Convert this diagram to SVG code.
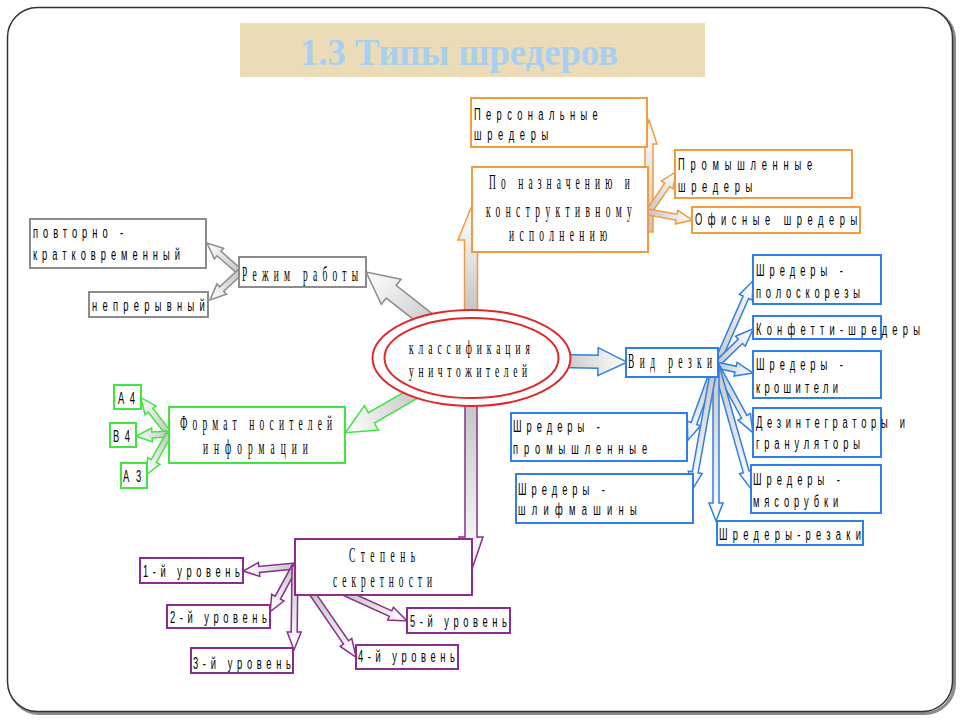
<svg xmlns="http://www.w3.org/2000/svg" width="960" height="720" viewBox="0 0 960 720">
<defs>
<linearGradient id="ag" x1="0" y1="0" x2="1" y2="0">
<stop offset="0" stop-color="#c4c4c4"/>
<stop offset="1" stop-color="#ffffff"/>
</linearGradient>
<style>
.s{font-family:"Liberation Sans",Arial,sans-serif;font-size:17px;fill:#000}
.r{font-family:"Liberation Serif","Times New Roman",serif;font-size:21px;fill:#000}
.rc{font-family:"Liberation Serif","Times New Roman",serif;font-size:18px;fill:#000}
.box{fill:#fff;stroke-width:2}
.o{stroke:#f39a3c}.g{stroke:#8c8c8c}.b{stroke:#2e7fe6}.gr{stroke:#3ee63e}.p{stroke:#8b2c8f}
.a{fill:url(#ag);stroke-width:1.5;stroke-linejoin:miter}
</style>
</defs>
<rect width="960" height="720" fill="#fff"/>
<rect x="9.5" y="9.5" width="945" height="704" rx="30" fill="none" stroke="#8a8a8a" stroke-width="3"/>
<rect x="7.5" y="7.5" width="945" height="704" rx="30" fill="#fff" stroke="#333" stroke-width="1.5"/>
<g id="title">
<rect x="240" y="23" width="465" height="54" fill="#ebdbb7"/>
<text x="300" y="65" font-family="'Liberation Serif','Times New Roman',serif" font-size="37" font-weight="bold" fill="#a6cff2" textLength="318" lengthAdjust="spacingAndGlyphs">1.3 Типы шредеров</text>
</g>
<g id="connectors">
<path class="a o" transform="translate(471,312) rotate(-90)" d="M0,-6.5H72V-13L104,0L72,13V6.5H0Z"/>
<path class="a o" transform="translate(649,232) rotate(-90)" d="M0,-4H88V-8L112,0L88,8V4H0Z"/>
<path class="a o" transform="translate(648,213) rotate(-55.7)" d="M0,-3H34V-7L50,0L34,7V3H0Z"/>
<path class="a o" transform="translate(648,212) rotate(10.3)" d="M0,-3H29V-7L45,0L29,7V3H0Z"/>
<path class="a g" transform="translate(440,330) rotate(-141.9)" d="M0,-8H62V-16L94,0L62,16V8H0Z"/>
<path class="a g" transform="translate(240,272) rotate(-138.7)" d="M0,-3H28V-7L44,0L28,7V3H0Z"/>
<path class="a g" transform="translate(240,272) rotate(137)" d="M0,-3H25V-7L41,0L25,7V3H0Z"/>
<path class="a b" transform="translate(560,361) rotate(1)" d="M0,-6.5H38V-14L67,0L38,14V6.5H0Z"/>
<path class="a b" transform="translate(716,365) rotate(-66.2)" d="M0,-3H74V-7L92,0L74,7V3H0Z"/>
<path class="a b" transform="translate(716,365) rotate(-44.2)" d="M0,-3H34V-7L52,0L34,7V3H0Z"/>
<path class="a b" transform="translate(716,365) rotate(12.2)" d="M0,-3H20V-7L38,0L20,7V3H0Z"/>
<path class="a b" transform="translate(716,365) rotate(61.4)" d="M0,-3H59V-7L77,0L59,7V3H0Z"/>
<path class="a b" transform="translate(716,365) rotate(74.2)" d="M0,-3H111V-7L129,0L111,7V3H0Z"/>
<path class="a b" transform="translate(716,366) rotate(90)" d="M0,-3H137V-7L155,0L137,7V3H0Z"/>
<path class="a b" transform="translate(714,368) rotate(109.9)" d="M0,-3H59V-7L77,0L59,7V3H0Z"/>
<path class="a b" transform="translate(714,368) rotate(100.2)" d="M0,-3H106V-7L124,0L106,7V3H0Z"/>
<path class="a gr" transform="translate(420,390) rotate(150.2)" d="M0,-6H56V-14L86,0L56,14V6H0Z"/>
<path class="a gr" transform="translate(169,434) rotate(-127.9)" d="M0,-3H30V-7L46,0L30,7V3H0Z"/>
<path class="a gr" transform="translate(169,434) rotate(176.5)" d="M0,-3H17V-7L33,0L17,7V3H0Z"/>
<path class="a gr" transform="translate(169,434) rotate(119.3)" d="M0,-3H31V-7L47,0L31,7V3H0Z"/>
<path class="a p" transform="translate(471,400) rotate(90)" d="M0,-6H137V-12L172,0L137,12V6H0Z"/>
<path class="a p" transform="translate(295,566) rotate(174.5)" d="M0,-3H36V-7L52,0L36,7V3H0Z"/>
<path class="a p" transform="translate(295,566) rotate(118.5)" d="M0,-3H36V-7L52,0L36,7V3H0Z"/>
<path class="a p" transform="translate(295,566) rotate(90.7)" d="M0,-3H66V-7L84,0L66,7V3H0Z"/>
<path class="a p" transform="translate(312,593) rotate(55.5)" d="M0,-3H60V-7L78,0L60,7V3H0Z"/>
<path class="a p" transform="translate(345,593) rotate(24.3)" d="M0,-3H50V-7L68,0L50,7V3H0Z"/>
</g>
<g id="n-center">
<ellipse cx="471.5" cy="358" rx="99" ry="48" fill="#fff" stroke="#e02828" stroke-width="2"/>
<ellipse cx="471.5" cy="358" rx="87" ry="40" fill="none" stroke="#e02828" stroke-width="2"/>
<text class="rc" transform="translate(409,354) scale(0.525,1)" textLength="230" lengthAdjust="spacing">классификация</text>
<text class="rc" transform="translate(409,377) scale(0.525,1)" textLength="225" lengthAdjust="spacing">уничтожителей</text>
</g>
<g id="n-personal">
<rect class="box o" x="471" y="98" width="176" height="49"/>
<text class="s" transform="translate(474,120) scale(0.55,1)" textLength="225" lengthAdjust="spacing">Персональные</text>
<text class="s" transform="translate(474,140) scale(0.55,1)" textLength="135" lengthAdjust="spacing">шредеры</text>
</g>
<g id="n-purpose">
<rect class="box o" x="472" y="167" width="176" height="85"/>
<text class="r" transform="translate(489,189) scale(0.45,1)" textLength="313" lengthAdjust="spacing">По назначению и</text>
<text class="r" transform="translate(486,217) scale(0.45,1)" textLength="324" lengthAdjust="spacing">конструктивному</text>
<text class="r" transform="translate(509,241) scale(0.45,1)" textLength="218" lengthAdjust="spacing">исполнению</text>
</g>
<g id="n-industrial">
<rect class="box o" x="675" y="150" width="177" height="48"/>
<text class="s" transform="translate(678,170) scale(0.55,1)" textLength="244" lengthAdjust="spacing">Промышленные</text>
<text class="s" transform="translate(678,192) scale(0.55,1)" textLength="135" lengthAdjust="spacing">шредеры</text>
</g>
<g id="n-office">
<rect class="box o" x="692" y="207" width="168" height="26"/>
<text class="s" transform="translate(695,225) scale(0.55,1)" textLength="295" lengthAdjust="spacing">Офисные шредеры</text>
</g>
<g id="n-mode">
<rect class="box g" x="239" y="257" width="127" height="30"/>
<text class="r" transform="translate(242,281) scale(0.45,1)" textLength="258" lengthAdjust="spacing">Режим работы</text>
</g>
<g id="n-repeat">
<rect class="box g" x="30" y="219" width="176" height="49"/>
<text class="s" transform="translate(33,238) scale(0.55,1)" textLength="164" lengthAdjust="spacing">повторно -</text>
<text class="s" transform="translate(33,260) scale(0.55,1)" textLength="267" lengthAdjust="spacing">кратковременный</text>
</g>
<g id="n-continuous">
<rect class="box g" x="89" y="292" width="119" height="25"/>
<text class="s" transform="translate(92,311) scale(0.55,1)" textLength="205" lengthAdjust="spacing">непрерывный</text>
</g>
<g id="n-cut">
<rect class="box b" x="626" y="348" width="92" height="29"/>
<text class="r" transform="translate(628,368) scale(0.45,1)" textLength="187" lengthAdjust="spacing">Вид резки</text>
</g>
<g id="n-strip">
<rect class="box b" x="753" y="255" width="128" height="49"/>
<text class="s" transform="translate(756,276) scale(0.55,1)" textLength="158" lengthAdjust="spacing">Шредеры -</text>
<text class="s" transform="translate(756,298) scale(0.55,1)" textLength="189" lengthAdjust="spacing">полоскорезы</text>
</g>
<g id="n-confetti">
<rect class="box b" x="753" y="316" width="128" height="23"/>
<text class="s" transform="translate(756,335) scale(0.55,1)" textLength="298" lengthAdjust="spacing">Конфетти-шредеры</text>
</g>
<g id="n-crumb">
<rect class="box b" x="753" y="351" width="128" height="47"/>
<text class="s" transform="translate(756,370) scale(0.55,1)" textLength="158" lengthAdjust="spacing">Шредеры -</text>
<text class="s" transform="translate(756,393) scale(0.55,1)" textLength="149" lengthAdjust="spacing">крошители</text>
</g>
<g id="n-disint">
<rect class="box b" x="753" y="408" width="128" height="49"/>
<text class="s" transform="translate(756,428) scale(0.55,1)" textLength="271" lengthAdjust="spacing">Дезинтеграторы и</text>
<text class="s" transform="translate(756,449) scale(0.55,1)" textLength="189" lengthAdjust="spacing">грануляторы</text>
</g>
<g id="n-mincer">
<rect class="box b" x="751" y="465" width="130" height="48"/>
<text class="s" transform="translate(753,485) scale(0.55,1)" textLength="158" lengthAdjust="spacing">Шредеры -</text>
<text class="s" transform="translate(753,507) scale(0.55,1)" textLength="155" lengthAdjust="spacing">мясорубки</text>
</g>
<g id="n-cutter">
<rect class="box b" x="717" y="521" width="146" height="24"/>
<text class="s" transform="translate(719,540) scale(0.55,1)" textLength="258" lengthAdjust="spacing">Шредеры-резаки</text>
</g>
<g id="n-indus">
<rect class="box b" x="511" y="413" width="176" height="48"/>
<text class="s" transform="translate(513,432) scale(0.55,1)" textLength="158" lengthAdjust="spacing">Шредеры -</text>
<text class="s" transform="translate(513,454) scale(0.55,1)" textLength="244" lengthAdjust="spacing">промышленные</text>
</g>
<g id="n-grind">
<rect class="box b" x="516" y="474" width="177" height="49"/>
<text class="s" transform="translate(518,495) scale(0.55,1)" textLength="158" lengthAdjust="spacing">Шредеры -</text>
<text class="s" transform="translate(518,515) scale(0.55,1)" textLength="216" lengthAdjust="spacing">шлифмашины</text>
</g>
<g id="n-format">
<rect class="box gr" x="169" y="407" width="176" height="56"/>
<text class="r" transform="translate(180,430) scale(0.45,1)" textLength="338" lengthAdjust="spacing">Формат носителей</text>
<text class="r" transform="translate(203,454) scale(0.45,1)" textLength="233" lengthAdjust="spacing">информации</text>
</g>
<g id="n-a4">
<rect class="box gr" x="114" y="385" width="27" height="24"/>
<text class="s" transform="translate(118,404) scale(0.55,1)" textLength="31" lengthAdjust="spacing">А4</text>
</g>
<g id="n-b4">
<rect class="box gr" x="110" y="423" width="26" height="24"/>
<text class="s" transform="translate(113,442) scale(0.55,1)" textLength="31" lengthAdjust="spacing">В4</text>
</g>
<g id="n-a3">
<rect class="box gr" x="121" y="463" width="26" height="25"/>
<text class="s" transform="translate(123,482) scale(0.55,1)" textLength="33" lengthAdjust="spacing">А3</text>
</g>
<g id="n-secret">
<rect class="box p" x="295" y="539" width="177" height="56"/>
<text class="r" transform="translate(349,562) scale(0.45,1)" textLength="147" lengthAdjust="spacing">Степень</text>
<text class="r" transform="translate(333,587) scale(0.45,1)" textLength="220" lengthAdjust="spacing">секретности</text>
</g>
<g id="n-l1">
<rect class="box p" x="140" y="558" width="103" height="25"/>
<text class="s" transform="translate(143,577) scale(0.55,1)" textLength="176" lengthAdjust="spacing">1-й уровень</text>
</g>
<g id="n-l2">
<rect class="box p" x="167" y="605" width="103" height="23"/>
<text class="s" transform="translate(170,623) scale(0.55,1)" textLength="176" lengthAdjust="spacing">2-й уровень</text>
</g>
<g id="n-l3">
<rect class="box p" x="191" y="648" width="102" height="25"/>
<text class="s" transform="translate(193,669) scale(0.55,1)" textLength="178" lengthAdjust="spacing">3-й уровень</text>
</g>
<g id="n-l4">
<rect class="box p" x="356" y="645" width="102" height="24"/>
<text class="s" transform="translate(358,662) scale(0.55,1)" textLength="176" lengthAdjust="spacing">4-й уровень</text>
</g>
<g id="n-l5">
<rect class="box p" x="407" y="608" width="103" height="25"/>
<text class="s" transform="translate(410,627) scale(0.55,1)" textLength="176" lengthAdjust="spacing">5-й уровень</text>
</g>
</svg>
